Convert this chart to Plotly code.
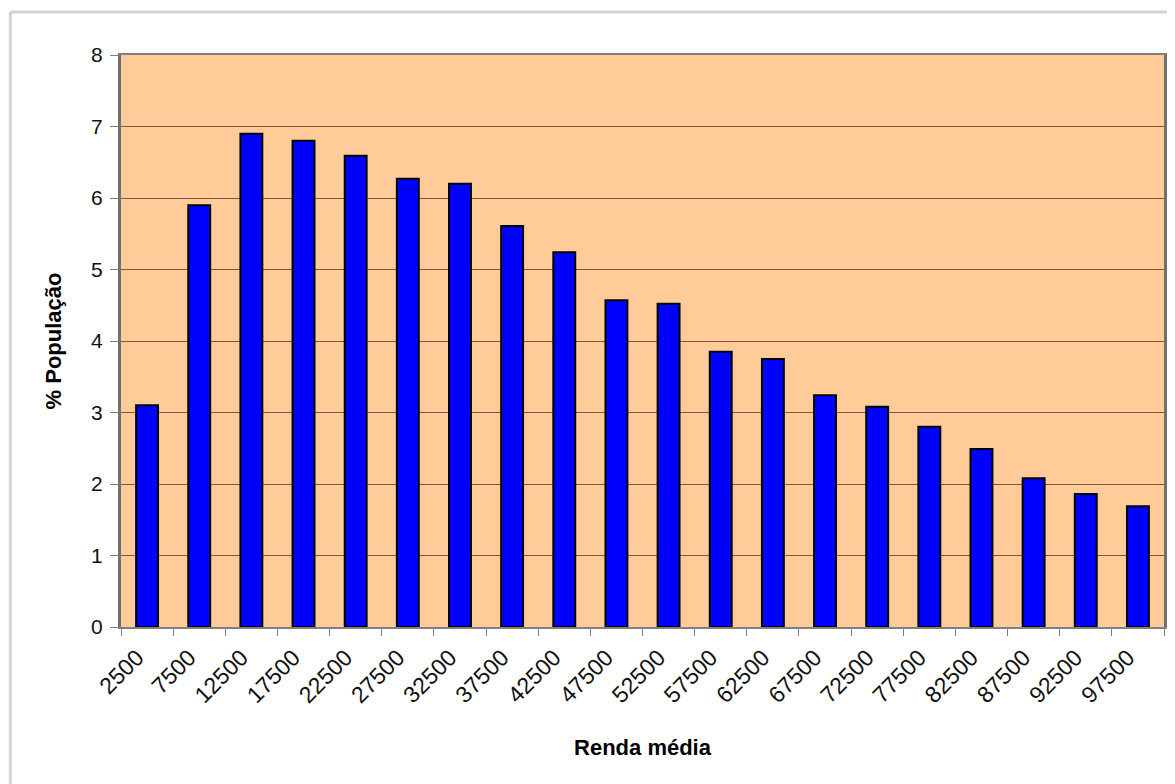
import plotly.graph_objects as go

categories = ["2500", "7500", "12500", "17500", "22500", "27500", "32500", "37500", "42500", "47500",
              "52500", "57500", "62500", "67500", "72500", "77500", "82500", "87500", "92500", "97500"]
population_pct = [3.10, 5.90, 6.90, 6.80, 6.59, 6.27, 6.20, 5.61, 5.24, 4.57,
                  4.52, 3.85, 3.75, 3.24, 3.08, 2.80, 2.49, 2.08, 1.86, 1.69]
y_ticks = [0, 1, 2, 3, 4, 5, 6, 7, 8]

# page offset of 8px (body margin) is accounted for
W, H = 1167, 776
L, R, T, B = 113, 8, 47, 157
pw, ph = W - L - R, H - T - B

def px(x):
    return (x - L) / pw

def py(y):
    return (H - B - y) / ph

fig = go.Figure()
fig.add_trace(go.Bar(
    x=categories, y=population_pct,
    marker=dict(color="#0000FF", line=dict(color="#000000", width=2)),
    width=0.42,
))

fig.update_layout(
    width=W, height=H,
    margin=dict(l=L, r=R, t=T, b=B),
    paper_bgcolor="white",
    plot_bgcolor="#FFCC99",
    showlegend=False,
    font=dict(family="Arial, Liberation Sans, sans-serif", color="#000000"),
    xaxis=dict(
        type="category",
        tickangle=-45,
        tickfont=dict(size=23, color="#111111"),
        ticks="outside", tickson="boundaries", ticklen=7, tickcolor="#808080",
        ticklabelstandoff=6, ticklabelshift=-10,
        showline=True, linecolor="#808080", linewidth=2, mirror=True,
        showgrid=False,
        title=dict(text="<b>Renda média</b>", font=dict(size=22), standoff=33),
    ),
    yaxis=dict(
        range=[0, 8],
        tickvals=y_ticks,
        tickfont=dict(size=21, color="#111111"),
        ticks="outside", ticklen=8, tickcolor="#808080",
        ticklabelstandoff=3,
        showline=True, linecolor="#707070", linewidth=3, mirror=True,
        showgrid=True, gridcolor="#7a5a3a", gridwidth=1,
        zeroline=False,
        title=dict(text="<b>% População</b>", font=dict(size=22), standoff=24),
    ),
    shapes=[
        dict(type="line", xref="paper", yref="paper",
             x0=px(2), x1=px(1167), y0=py(4), y1=py(4),
             line=dict(color="#d4d4d4", width=3)),
        dict(type="line", xref="paper", yref="paper",
             x0=px(2), x1=px(2), y0=py(4), y1=py(776),
             line=dict(color="#d4d4d4", width=3)),
    ],
)

fig.write_html("out.html")
